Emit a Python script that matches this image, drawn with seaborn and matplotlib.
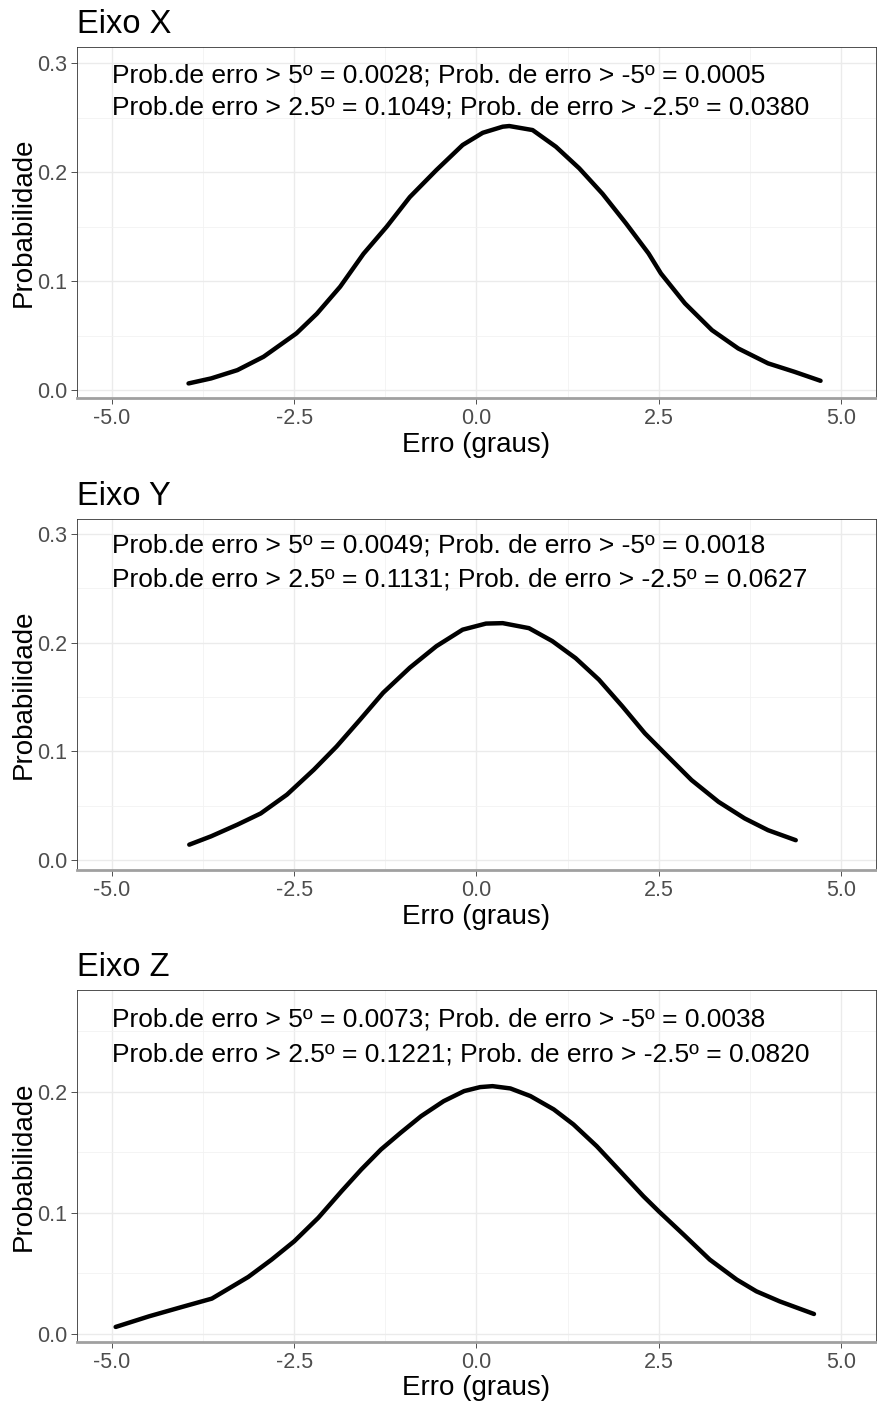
import numpy as np
import pandas as pd
import matplotlib
matplotlib.use("Agg")
import matplotlib.pyplot as plt
import seaborn as sns
from matplotlib.ticker import MultipleLocator

# Curvas (erro em graus, probabilidade)
erro_x = [-3.95, -3.64, -3.28, -2.92, -2.47, -2.19, -1.87, -1.55, -1.23, -0.915, -0.55, -0.19,
          0.086, 0.36, 0.45, 0.77, 1.09, 1.41, 1.73, 2.05, 2.36, 2.53, 2.86, 3.23, 3.59, 4.00, 4.36, 4.72]
prob_x = [0.0061, 0.0107, 0.0183, 0.0306, 0.052, 0.070, 0.0948, 0.125, 0.150, 0.177, 0.2018, 0.2248,
          0.236, 0.2416, 0.2422, 0.2385, 0.2232, 0.2034, 0.180, 0.153, 0.1254, 0.107, 0.0795, 0.055,
          0.0382, 0.0245, 0.0168, 0.0085]

erro_y = [-3.94, -3.64, -3.28, -2.96, -2.60, -2.23, -1.92, -1.60, -1.28, -0.915, -0.55, -0.19,
          0.13, 0.36, 0.72, 1.04, 1.36, 1.68, 2.00, 2.31, 2.63, 2.95, 3.32, 3.68, 4.00, 4.38]
prob_y = [0.0143, 0.022, 0.0327, 0.043, 0.0603, 0.0833, 0.1045, 0.129, 0.154, 0.177, 0.1968, 0.212,
          0.2176, 0.218, 0.2134, 0.2015, 0.1858, 0.166, 0.1416, 0.1167, 0.0951, 0.0737, 0.0537,
          0.0384, 0.0276, 0.0184]

erro_z = [-4.95, -4.49, -4.04, -3.63, -3.13, -2.81, -2.50, -2.17, -1.85, -1.58, -1.31, -1.04, -0.76,
          -0.45, -0.17, 0.05, 0.22, 0.465, 0.74, 1.06, 1.33, 1.65, 1.97, 2.29, 2.50, 2.84, 3.20, 3.57,
          3.84, 4.16, 4.63]
prob_z = [0.0058, 0.0146, 0.0223, 0.0292, 0.0471, 0.0614, 0.0765, 0.0959, 0.1179, 0.1358, 0.1523,
          0.1661, 0.1798, 0.1922, 0.2005, 0.2038, 0.2046, 0.2027, 0.1964, 0.1854, 0.173, 0.155, 0.1344,
          0.1137, 0.1013, 0.0821, 0.0614, 0.0449, 0.0352, 0.0269, 0.0165]

titulos = ["Eixo X", "Eixo Y", "Eixo Z"]
linha1 = [
    "Prob.de erro > 5º = 0.0028; Prob. de erro > -5º = 0.0005",
    "Prob.de erro > 5º = 0.0049; Prob. de erro > -5º = 0.0018",
    "Prob.de erro > 5º = 0.0073; Prob. de erro > -5º = 0.0038",
]
linha2 = [
    "Prob.de erro > 2.5º = 0.1049; Prob. de erro > -2.5º = 0.0380",
    "Prob.de erro > 2.5º = 0.1131; Prob. de erro > -2.5º = 0.0627",
    "Prob.de erro > 2.5º = 0.1221; Prob. de erro > -2.5º = 0.0820",
]
ylims = [(-0.0073, 0.3147), (-0.009, 0.3138), (-0.0066, 0.284)]
texto_y = [(0.289, 0.2596), (0.289, 0.2585), (0.260, 0.2306)]

sns.set_theme(style="whitegrid")
plt.rcParams["font.family"] = ["Liberation Sans", "DejaVu Sans"]

fig = plt.figure(figsize=(8.77, 14.03), dpi=100)
posicoes = [(0.0878, 0.7163, 0.911, 0.2502),
            (0.0878, 0.3799, 0.911, 0.2502),
            (0.0878, 0.0435, 0.911, 0.2509)]

dados = [(erro_x, prob_x), (erro_y, prob_y), (erro_z, prob_z)]

for i, (ex, py) in enumerate(dados):
    ax = fig.add_axes(posicoes[i])
    df = pd.DataFrame({"erro": ex, "prob": py})
    sns.lineplot(data=df, x="erro", y="prob", ax=ax, color="black", linewidth=3.2)
    ax.set_xlim(-5.48, 5.48)
    ax.set_ylim(*ylims[i])
    ax.xaxis.set_minor_locator(MultipleLocator(1.25))
    ax.yaxis.set_minor_locator(MultipleLocator(0.05))
    ax.set_xticks([-5.0, -2.5, 0.0, 2.5, 5.0])
    ax.set_xticklabels(["-5.0", "-2.5", "0.0", "2.5", "5.0"])
    yt = [0.0, 0.1, 0.2, 0.3] if ylims[i][1] > 0.3 else [0.0, 0.1, 0.2]
    ax.set_yticks(yt)
    ax.set_yticklabels([f"{v:.1f}" for v in yt])
    ax.grid(which="major", color="#EBEBEB", linewidth=1.0)
    ax.grid(which="minor", color="#F2F2F2", linewidth=0.6)
    ax.set_facecolor("white")
    for s in ax.spines.values():
        s.set_color("#333333")
        s.set_linewidth(0.6)
    ax.spines["bottom"].set_color("#A0A0A0")
    ax.spines["bottom"].set_linewidth(2)
    ax.tick_params(axis="both", which="major", labelsize=15.5, labelcolor="#4D4D4D",
                   color="#333333", length=4, width=0.6, pad=3, bottom=True, left=True)
    ax.tick_params(which="minor", length=0)
    ax.set_xlabel("Erro (graus)", fontsize=20, labelpad=2, color="black")
    ax.set_ylabel("Probabilidade", fontsize=20, labelpad=0, color="black")
    ax.set_title(titulos[i], loc="left", fontsize=23.5, pad=10, color="black")
    ax.text(-5.0, texto_y[i][0], linha1[i], fontsize=19, va="center", ha="left", color="black")
    ax.text(-5.0, texto_y[i][1], linha2[i], fontsize=19, va="center", ha="left", color="black")

fig.savefig("out.png", dpi=100, facecolor="white")
